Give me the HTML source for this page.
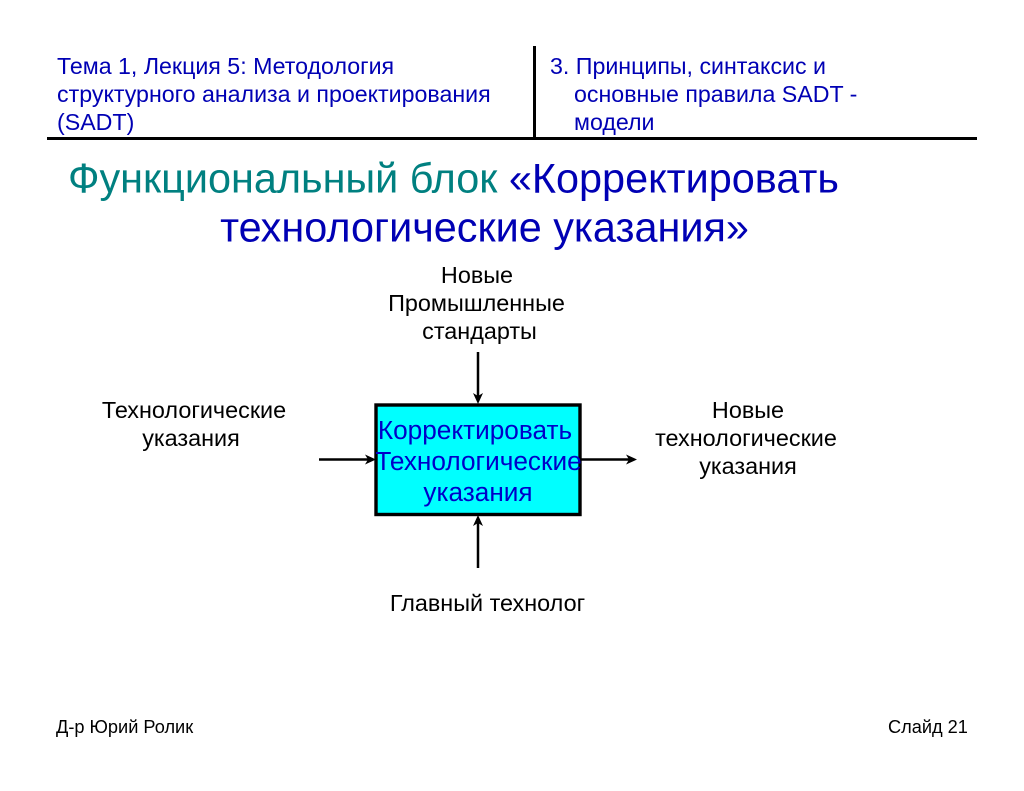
<!DOCTYPE html>
<html lang="ru">
<head>
<meta charset="utf-8">
<style>
html,body{margin:0;padding:0;background:#fff;width:1024px;height:791px;overflow:hidden}
svg{display:block}
text{font-family:"Liberation Sans",sans-serif}
.h{font-size:23.2px;fill:#0000b4}
.l{font-size:23.4px;fill:#000}
.t{font-size:41.4px;fill:#0000b4}
.b{font-size:26.2px;fill:#0000c8}
.f{font-size:18.2px;fill:#000}
</style>
</head>
<body>
<svg width="1024" height="791" viewBox="0 0 1024 791" xmlns="http://www.w3.org/2000/svg">
<rect width="1024" height="791" fill="#fff"/>
<path d="M47 138.500H977" stroke="#000" stroke-width="3" fill="none"/>
<path d="M534.500 46V138" stroke="#000" stroke-width="3" fill="none"/>

<text class="h" x="57" y="74">Тема 1, Лекция 5: Методология</text>
<text class="h" x="57" y="102">структурного анализа и проектирования</text>
<text class="h" x="57" y="130">(SADT)</text>

<text class="h" x="550" y="74">3. Принципы, синтаксис и</text>
<text class="h" x="574" y="102">основные правила SADT -</text>
<text class="h" x="574" y="130">модели</text>

<text class="t" x="68" y="192.500"><tspan fill="#008080">Функциональный блок </tspan>«Корректировать</text>
<text class="t" x="484.500" y="241.500" text-anchor="middle">технологические указания»</text>

<text class="l" x="477" y="283" text-anchor="middle">Новые</text>
<text class="l" x="476.500" y="311" text-anchor="middle">Промышленные</text>
<text class="l" x="479.500" y="339" text-anchor="middle">стандарты</text>

<text class="l" x="194" y="418" text-anchor="middle">Технологические</text>
<text class="l" x="191" y="446" text-anchor="middle">указания</text>

<text class="l" x="748" y="418" text-anchor="middle">Новые</text>
<text class="l" x="746" y="446" text-anchor="middle">технологические</text>
<text class="l" x="748" y="474" text-anchor="middle">указания</text>

<text class="l" x="487.500" y="611" text-anchor="middle">Главный технолог</text>

<rect x="376" y="405" width="204" height="109.500" fill="#00ffff" stroke="#000" stroke-width="3.400"/>
<text class="b" x="475" y="439" text-anchor="middle">Корректировать</text>
<text class="b" x="478.500" y="470" text-anchor="middle">Технологические</text>
<text class="b" x="478" y="501" text-anchor="middle">указания</text>

<g stroke="#000" stroke-width="2.500" fill="none">
<path d="M478 352V400"/>
<path d="M478 568V520"/>
<path d="M319 459.500H370"/>
<path d="M581 459.500H632"/>
</g>
<g fill="#000">
<path d="M478 404L473 393L478 396L483 393Z"/>
<path d="M478 515L473 526L478 523L483 526Z"/>
<path d="M376 459.500L365 454.500L368 459.500L365 464.500Z"/>
<path d="M637 459.500L626 454.500L629 459.500L626 464.500Z"/>
</g>

<text class="f" x="56" y="733">Д-р Юрий Ролик</text>
<text class="f" x="888" y="733">Слайд 21</text>
</svg>
</body>
</html>
